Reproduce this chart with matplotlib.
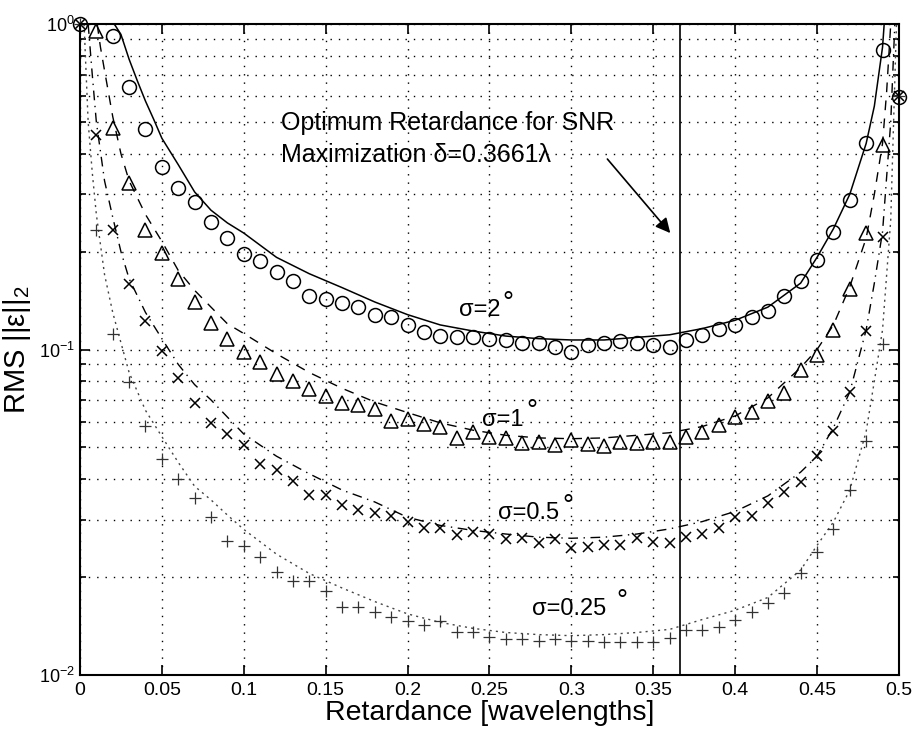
import numpy as np
import matplotlib
matplotlib.use("Agg")
import matplotlib.pyplot as plt
from matplotlib.ticker import FuncFormatter, LogLocator, NullFormatter

plt.rcParams['font.family'] = ['Liberation Sans', 'DejaVu Sans']
plt.rcParams['mathtext.fontset'] = 'custom'
plt.rcParams['mathtext.rm'] = 'Liberation Sans'
plt.rcParams['mathtext.it'] = 'Liberation Sans:italic'
plt.rcParams['mathtext.bf'] = 'Liberation Sans:bold'

# ---- data ----
x_sim = np.round(np.linspace(0, 0.5, 51), 2)
nan = np.nan
sim_s2 = [1.0, nan, 0.918, 0.64, 0.476, 0.364, 0.313, 0.284, 0.246, 0.220,
          0.196, 0.187, 0.173, 0.162, 0.146, 0.143, 0.139, 0.135, 0.128, 0.126,
          0.119, 0.113, 0.110, 0.109, 0.109, 0.108, 0.107, 0.105, 0.105, 0.102,
          0.098, 0.103, 0.105, 0.106, 0.105, 0.103, 0.102, 0.107, 0.111, 0.116,
          0.119, 0.126, 0.131, 0.146, 0.162, 0.188, 0.229, 0.288, 0.431, 0.832,
          0.596]
sim_s1 = [nan, 0.95, 0.479, 0.325, 0.233, 0.198, 0.165, 0.140, 0.121, 0.108,
          0.098, 0.0916, 0.084, 0.080, 0.0755, 0.072, 0.0685, 0.0675, 0.0656, 0.0603,
          0.061, 0.059, 0.0578, 0.0535, 0.0557, 0.054, 0.0535, 0.0516, 0.052, 0.0509,
          0.0528, 0.0513, 0.0505, 0.052, 0.0515, 0.052, 0.052, 0.054, 0.0557, 0.0587,
          0.0619, 0.0643, 0.0693, 0.0737, 0.0865, 0.0963, 0.115, 0.153, 0.228, 0.425,
          nan]
sim_s05 = [1.0, 0.456, 0.233, 0.159, 0.122, 0.099, 0.0818, 0.0685, 0.0596, 0.0551,
           0.0509, 0.0445, 0.0426, 0.0394, 0.0358, 0.0358, 0.0333, 0.0321, 0.0314, 0.0307,
           0.0296, 0.0283, 0.0283, 0.0270, 0.0275, 0.0272, 0.0261, 0.0263, 0.0255, 0.0261,
           0.0246, 0.0248, 0.0251, 0.0251, 0.0263, 0.0256, 0.0255, 0.0265, 0.0272, 0.0282,
           0.0305, 0.0307, 0.0338, 0.0365, 0.0393, 0.0470, 0.0560, 0.0741, 0.1139, 0.221,
           0.60]
sim_s025 = [1.0, 0.233, 0.112, 0.0793, 0.0584, 0.0461, 0.040, 0.0350, 0.0305, 0.0258,
            0.0249, 0.0231, 0.0207, 0.0194, 0.0194, 0.0181, 0.0162, 0.0162, 0.0156, 0.0151,
            0.0146, 0.0142, 0.0146, 0.0135, 0.0135, 0.0131, 0.0129, 0.0129, 0.0127, 0.0129,
            0.0127, 0.0127, 0.0126, 0.0126, 0.0126, 0.0126, 0.0130, 0.0137, 0.0137, 0.0140,
            0.0148, 0.0156, 0.0166, 0.0178, 0.0205, 0.0239, 0.0280, 0.0370, 0.0523, 0.104,
            0.60]

th_s2_x = [0.021, 0.025, 0.03, 0.035, 0.04, 0.045, 0.05, 0.06, 0.07, 0.08, 0.09, 0.10,
           0.12, 0.14, 0.16, 0.18, 0.20, 0.22, 0.24, 0.26, 0.28, 0.30, 0.32, 0.34, 0.36,
           0.38, 0.40, 0.42, 0.44, 0.45, 0.46, 0.47, 0.48, 0.485, 0.49, 0.491]
th_s2_y = [1.0, 0.93, 0.78, 0.67, 0.58, 0.51, 0.446, 0.37, 0.305, 0.268, 0.245, 0.228,
           0.192, 0.171, 0.155, 0.140, 0.128, 0.119, 0.114, 0.110, 0.108, 0.107, 0.107, 0.109, 0.111,
           0.116, 0.123, 0.135, 0.160, 0.192, 0.235, 0.30, 0.43, 0.56, 0.85, 1.0]

th_s1_x = [0.0105, 0.0125, 0.015, 0.02, 0.025, 0.03, 0.04, 0.05, 0.06, 0.07, 0.08, 0.09,
           0.10, 0.12, 0.14, 0.16, 0.18, 0.20, 0.22, 0.24, 0.26, 0.28, 0.30, 0.32, 0.34,
           0.36, 0.38, 0.40, 0.42, 0.44, 0.45, 0.46, 0.47, 0.48, 0.485, 0.49, 0.4925, 0.495]
th_s1_y = [1.0, 0.85, 0.72, 0.52, 0.40, 0.33, 0.26, 0.215, 0.175, 0.152, 0.135, 0.12,
           0.112, 0.097, 0.085, 0.076, 0.069, 0.064, 0.0595, 0.0565, 0.0545, 0.0535, 0.0532, 0.0535, 0.0545,
           0.0555, 0.058, 0.0625, 0.071, 0.088, 0.100, 0.119, 0.156, 0.22, 0.30, 0.43, 0.62, 1.0]

th_s05_x = [0.005, 0.0075, 0.01, 0.015, 0.02, 0.025, 0.03, 0.04, 0.05, 0.06, 0.07, 0.08, 0.09,
            0.10, 0.12, 0.14, 0.16, 0.18, 0.20, 0.22, 0.24, 0.26, 0.28, 0.30, 0.32, 0.34,
            0.36, 0.38, 0.40, 0.42, 0.44, 0.45, 0.46, 0.47, 0.48, 0.485, 0.49, 0.495, 0.4975]
th_s05_y = [1.0, 0.7, 0.5, 0.33, 0.255, 0.2, 0.165, 0.13, 0.108, 0.09, 0.078, 0.070, 0.062,
            0.055, 0.047, 0.0415, 0.037, 0.034, 0.0305, 0.0288, 0.0278, 0.0271, 0.0265, 0.0263, 0.0265, 0.0271,
            0.0281, 0.0296, 0.0318, 0.0355, 0.042, 0.047, 0.0575, 0.074, 0.115, 0.16, 0.23, 0.5, 1.0]

th_s025_x = [0.0025, 0.005, 0.0075, 0.01, 0.015, 0.02, 0.025, 0.03, 0.04, 0.05, 0.06, 0.07,
             0.08, 0.09, 0.10, 0.12, 0.14, 0.16, 0.18, 0.20, 0.22, 0.24, 0.26, 0.28, 0.30,
             0.32, 0.34, 0.36, 0.38, 0.40, 0.42, 0.44, 0.45, 0.46, 0.47, 0.48, 0.485, 0.49,
             0.495, 0.4985]
th_s025_y = [1.0, 0.5, 0.35, 0.26, 0.17, 0.13, 0.105, 0.085, 0.065, 0.054, 0.045, 0.038,
             0.0345, 0.031, 0.028, 0.0235, 0.0205, 0.0185, 0.0168, 0.0154, 0.0145, 0.0139, 0.0135, 0.0133, 0.0132,
             0.0133, 0.0135, 0.0138, 0.0148, 0.0158, 0.0173, 0.021, 0.025, 0.0295, 0.037, 0.056, 0.08, 0.115,
             0.25, 1.0]

x_ticks = [0, 0.05, 0.1, 0.15, 0.2, 0.25, 0.3, 0.35, 0.4, 0.45, 0.5]
delta_opt = 0.3661

sigma_labels = ['σ=2', 'σ=1', 'σ=0.5', 'σ=0.25']
sigma_label_pos = [(0.2317, 0.132), (0.2457, 0.0607), (0.2555, 0.0315), (0.276, 0.0159)]
degree_pos = [(0.261, 0.1317), (0.2756, 0.0610), (0.298, 0.0312), (0.331, 0.0159)]

# ---- figure ----
fig = plt.figure(figsize=(9.14, 7.32), dpi=100)
ax = fig.add_axes([0.0875, 0.078, 0.896, 0.889])
ax.set_yscale('log')
ax.set_xlim(0, 0.5)
ax.set_ylim(1e-2, 1e0)

# grid
ax.grid(True, which='major', axis='both', color='k', linestyle=(0, (1, 5)), linewidth=1.0)
ax.grid(True, which='minor', axis='y', color='k', linestyle=(0, (1, 5)), linewidth=1.0)
ax.set_axisbelow(True)

# theory curves
ax.plot(th_s2_x, th_s2_y, '-', color='k', lw=1.1)
ax.plot(th_s1_x, th_s1_y, '--', color='k', lw=1.0, dashes=(7, 6))
ax.plot(th_s05_x, th_s05_y, '-.', color='k', lw=1.0, dashes=(7, 4, 1, 4))
ax.plot(th_s025_x, th_s025_y, ':', color='#444444', lw=1.0, dashes=(1.5, 3))

# simulation markers
ax.plot(x_sim, sim_s2, 'o', mfc='none', mec='k', ms=10, mew=1.1, clip_on=False)
ax.plot(x_sim, sim_s1, '^', mfc='none', mec='k', ms=10, mew=1.1, clip_on=False)
ax.plot(x_sim, sim_s05, 'x', color='k', ms=7, mew=1.1, clip_on=False)
ax.plot(x_sim, sim_s025, '+', color='#333333', ms=8, mew=0.9, clip_on=False)

# optimum line
ax.axvline(delta_opt, color='k', lw=1.2)

# annotation
ax.annotate('', xy=(0.3604, 0.228), xytext=(0.322, 0.385),
            arrowprops=dict(arrowstyle='-|>', color='k', lw=1.2, mutation_scale=22,
                            shrinkA=0, shrinkB=0))
ax.text(0.123, 0.497, 'Optimum Retardance for SNR', fontsize=18, va='center', ha='left')
ax.text(0.123, 0.396, 'Maximization δ=0.3661λ', fontsize=18, va='center', ha='left')

# sigma labels
for lab, (lx, ly), (dx, dy) in zip(sigma_labels, sigma_label_pos, degree_pos):
    ax.text(lx, ly, lab, fontsize=17, va='center', ha='left')
    ax.text(dx, dy, '°', fontsize=20, va='baseline', ha='center')

# ticks
ax.set_xticks(x_ticks)
ax.xaxis.set_major_formatter(FuncFormatter(lambda v, p: f'{v:g}'))
ax.yaxis.set_major_locator(LogLocator(base=10, numticks=10))
ax.yaxis.set_minor_locator(LogLocator(base=10, subs=np.arange(2, 10), numticks=20))
ax.yaxis.set_minor_formatter(NullFormatter())
ax.tick_params(which='both', direction='in', top=True, right=True, width=1.2)
ax.tick_params(axis='x', labelsize=14)
ax.tick_params(axis='y', labelsize=13)
ax.tick_params(which='major', length=7)
ax.tick_params(axis='x', which='major', pad=5)
ax.tick_params(which='minor', length=4)
for s in ax.spines.values():
    s.set_linewidth(1.5)

ax.set_xlabel('Retardance [wavelengths]', fontsize=20.5)
ax.xaxis.set_label_coords(0.5, -0.039)
ax.set_ylabel(r'RMS ||ε||$_2$', fontsize=21)
ax.yaxis.set_label_coords(-0.057, 0.5)

fig.savefig('out.png', dpi=100)
